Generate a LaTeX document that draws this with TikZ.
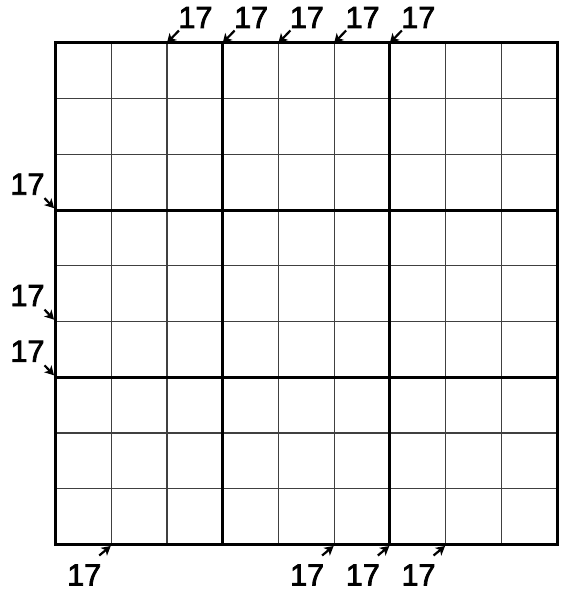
\documentclass[tikz,border=0pt]{standalone}
\usepackage{fontspec}
\setmainfont{Liberation Sans}
\newfontfamily\cluefont[FakeBold=2.5]{Liberation Sans}
\usetikzlibrary{arrows.meta}
\begin{document}
\begin{tikzpicture}[x=1pt,y=-1pt,
  thin grid/.style={line width=1.2pt, draw=black!75},
  thick grid/.style={line width=3pt, draw=black},
  clue/.style={font=\cluefont\fontsize{30.5}{30.5}\selectfont, inner sep=0pt, anchor=center},
  cluearrow/.style={line width=2.2pt, -{Stealth[length=9pt,width=10pt,inset=2.5pt]}}]
\useasboundingbox (0,0) rectangle (572,599);
\def\cs{55.72}
% thin lines
\foreach \i in {1,2,4,5,7,8}{
  \draw[thin grid] (55.5+\i*\cs,43) -- (55.5+\i*\cs,544.5);
  \draw[thin grid] (55.5,43+\i*\cs) -- (557,43+\i*\cs);
}
% thick lines
\foreach \i in {3,6}{
  \draw[thick grid] (55.5+\i*\cs,43) -- (55.5+\i*\cs,544.5);
  \draw[thick grid] (55.5,43+\i*\cs) -- (557,43+\i*\cs);
}
\draw[thick grid] (55.5,43) rectangle (557,544.5);
% top clues
\foreach \i [count=\n] in {2,3,4,5,6}{
  \coordinate (tv\n) at (55.5+\i*\cs,43);
  \node[clue] (tl\n) at ([xshift=28.5pt,yshift=25.5pt]tv\n) {17};
  \coordinate (tt\n) at ([xshift=12pt,yshift=12.5pt]tv\n);
  \draw[cluearrow] (tt\n) -- (tv\n);
}
% left clues
\foreach \i [count=\n] in {3,5,6}{
  \coordinate (lv\n) at (55.5,43+\i*\cs);
  \coordinate (lh\n) at ([xshift=-1.5pt,yshift=2pt]lv\n);
  \node[clue] (ll\n) at ([xshift=-28pt,yshift=26pt]lv\n) {17};
  \coordinate (lt\n) at ([xshift=-11pt,yshift=12pt]lv\n);
  \draw[cluearrow] (lt\n) -- (lh\n);
}
% bottom clues
\foreach \i [count=\n] in {1,5,6,7}{
  \coordinate (bv\n) at (55.5+\i*\cs,544.5);
  \coordinate (bh\n) at ([xshift=-0.5pt,yshift=-1.5pt]bv\n);
  \node[clue] (bl\n) at ([xshift=-27pt,yshift=-30.5pt]bv\n) {17};
  \coordinate (bt\n) at ([xshift=-12pt,yshift=-11pt]bv\n);
  \draw[cluearrow] (bt\n) -- (bh\n);
}
\end{tikzpicture}
\end{document}
